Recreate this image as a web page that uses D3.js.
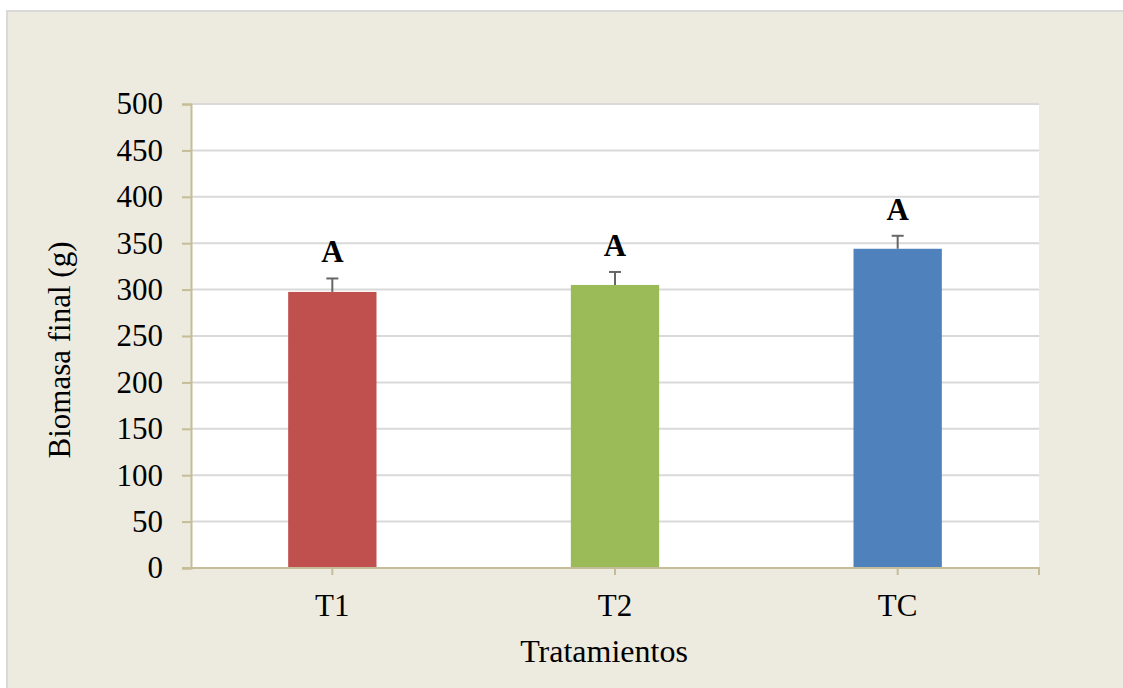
<!DOCTYPE html>
<html>
<head>
<meta charset="utf-8">
<script src="https://cdn.jsdelivr.net/npm/d3@7"></script>
<style>
  body { margin: 0; background: #fff; }
  text { font-family: "Liberation Serif", "Times New Roman", serif; fill: #000; }
</style>
</head>
<body>
<script>
const categories = ["T1", "T2", "TC"];
const values = [297.5, 305, 344];
const errors = [14.5, 14, 14];
const letters = ["A", "A", "A"];
const yTicks = [0, 50, 100, 150, 200, 250, 300, 350, 400, 450, 500];
const colors = ["#C0504D", "#9BBB59", "#4F81BD"];

const W = 1123, H = 688;
const plot = { left: 191, right: 1039, top: 104, bottom: 568 };

const svg = d3.select("body").append("svg")
  .attr("width", W)
  .attr("height", H);

// chart area
svg.append("rect")
  .attr("x", 7).attr("y", 11)
  .attr("width", W).attr("height", H)
  .attr("fill", "#EDEAE0")
  .attr("stroke", "#D9D9D9")
  .attr("stroke-width", 2);

svg.append("rect")
  .attr("x", plot.left).attr("y", plot.top)
  .attr("width", plot.right - plot.left)
  .attr("height", plot.bottom - plot.top)
  .attr("fill", "#fff");

let x = d3.scaleBand().domain(categories).range([plot.left, plot.right]).padding(0);
let y = d3.scaleLinear().domain([0, 500]).range([plot.bottom, plot.top]);
let barW = x.bandwidth() * 0.3125;

// gridlines
svg.append("g")
  .selectAll("line")
  .data(yTicks.filter(d => d > 0))
  .join("line")
  .attr("x1", plot.left).attr("x2", plot.right)
  .attr("y1", d => y(d)).attr("y2", d => y(d))
  .attr("stroke", "#D9D9D9")
  .attr("stroke-width", 2);

// bars
svg.append("g")
  .selectAll("rect")
  .data(categories)
  .join("rect")
  .attr("x", d => x(d) + x.bandwidth() / 2 - barW / 2)
  .attr("width", barW)
  .attr("y", (d, i) => y(values[i]))
  .attr("height", (d, i) => y(0) - y(values[i]))
  .attr("fill", (d, i) => colors[i]);

// error bars (upper only)
let err = svg.append("g").attr("stroke", "#666").attr("stroke-width", 2);
categories.forEach(function (c, i) {
  let cx = x(c) + x.bandwidth() / 2;
  err.append("line")
    .attr("x1", cx).attr("x2", cx)
    .attr("y1", y(values[i])).attr("y2", y(values[i] + errors[i]));
  err.append("line")
    .attr("x1", cx - 6).attr("x2", cx + 6)
    .attr("y1", y(values[i] + errors[i])).attr("y2", y(values[i] + errors[i]));
});

// letters
svg.append("g")
  .selectAll("text")
  .data(categories)
  .join("text")
  .attr("x", d => x(d) + x.bandwidth() / 2)
  .attr("y", (d, i) => y(values[i] + errors[i]) - 16)
  .attr("text-anchor", "middle")
  .style("font-size", "31px")
  .style("font-weight", "bold")
  .text((d, i) => letters[i]);

// y axis
let yAxis = svg.append("g")
  .attr("transform", "translate(" + plot.left + ",0)")
  .call(d3.axisLeft(y).tickValues(yTicks).tickSize(9).tickPadding(19));
yAxis.select(".domain").attr("stroke", "#C4BD97").attr("stroke-width", 2);
yAxis.selectAll(".tick line").attr("stroke", "#C4BD97").attr("stroke-width", 2);
yAxis.selectAll("text")
  .style("font-family", "'Liberation Serif', serif")
  .style("font-size", "31px")
  .attr("fill", "#000");

// x axis
let xAxis = svg.append("g")
  .attr("transform", "translate(0," + plot.bottom + ")")
  .call(d3.axisBottom(x).tickSize(7).tickPadding(19).tickSizeOuter(0));
xAxis.select(".domain").remove();
xAxis.append("line")
  .attr("x1", plot.left - 9).attr("x2", plot.right + 1)
  .attr("stroke", "#C4BD97").attr("stroke-width", 2);
xAxis.append("line")
  .attr("x1", plot.right).attr("x2", plot.right)
  .attr("y1", 0).attr("y2", 7)
  .attr("stroke", "#C4BD97").attr("stroke-width", 2);
xAxis.selectAll(".tick line").attr("stroke", "#C4BD97").attr("stroke-width", 2);
xAxis.selectAll("text")
  .style("font-family", "'Liberation Serif', serif")
  .style("font-size", "31px")
  .attr("fill", "#000");

// axis titles
svg.append("text")
  .attr("x", 604)
  .attr("y", 662)
  .attr("text-anchor", "middle")
  .style("font-size", "32px")
  .text("Tratamientos");

svg.append("text")
  .attr("transform", "translate(70,350) rotate(-90)")
  .attr("text-anchor", "middle")
  .style("font-size", "31px")
  .text("Biomasa final (g)");
</script>
</body>
</html>
